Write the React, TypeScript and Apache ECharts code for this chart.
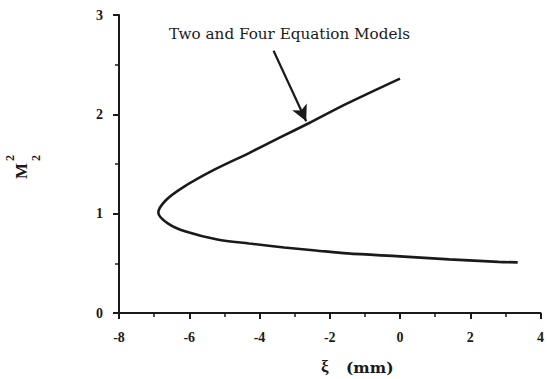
import React, { useEffect, useRef } from "react";
import * as echarts from "echarts";

// Axial position ξ (mm) and squared Mach number M2² along the curve,
// traced from the upper branch end, round the turning point, to the lower branch end.
const xi = [0, -1.5, -2.6, -3.4, -4.3, -5.3, -6.2, -6.68, -6.88, -6.6, -6.1, -5.2, -4.3, -3.3, -2.4, -1.5, 0, 1.4, 2.8, 3.35];
const m2sq = [2.36, 2.11, 1.91, 1.77, 1.61, 1.44, 1.26, 1.13, 1.01, 0.9, 0.82, 0.74, 0.7, 0.66, 0.63, 0.6, 0.57, 0.54, 0.515, 0.51];

// Annotation arrow: tail below the caption, head on the curve
const arrowFrom = [-3.6, 2.64];
const arrowTo = [-2.67, 1.93];

const caption = "Two and Four Equation Models";
const xSymbol = "ξ";
const xUnit = "(mm)";

const INK = "#1a1a1a";
const serif = "'Liberation Serif', 'DejaVu Serif', serif";
const wideSerif = "'DejaVu Serif', 'Liberation Serif', serif";

export default function App() {
  const ref = useRef<HTMLDivElement>(null);

  useEffect(() => {
    document.body.style.margin = "0";
    if (!ref.current) return;
    const chart = echarts.init(ref.current, undefined, { renderer: "svg" });
    const points = xi.map((x, i) => [x, m2sq[i]]);

    const axisCommon = {
      axisLine: { show: true, onZero: false, lineStyle: { color: INK, width: 2 } },
      axisTick: { show: true, inside: false, length: 6, lineStyle: { color: INK, width: 2 } },
      minorTick: { show: true, splitNumber: 2, length: 4, lineStyle: { color: INK, width: 1.5 } },
      splitLine: { show: false },
      minorSplitLine: { show: false },
      axisLabel: {
        color: INK,
        fontFamily: serif,
        fontWeight: "bold" as const,
        fontSize: 14,
      },
    };

    chart.setOption({
      animation: false,
      backgroundColor: "#ffffff",
      grid: { left: 119, right: 4, top: 15, bottom: 66, containLabel: false },
      xAxis: {
        type: "value",
        min: -8,
        max: 4,
        interval: 2,
        ...axisCommon,
        axisLabel: { ...axisCommon.axisLabel, margin: 17 },
      },
      yAxis: {
        type: "value",
        min: 0,
        max: 3,
        interval: 1,
        ...axisCommon,
        axisLabel: { ...axisCommon.axisLabel, margin: 16 },
      },
      series: [
        {
          type: "line",
          data: points,
          smooth: 0.3,
          showSymbol: false,
          symbol: "none",
          lineStyle: { color: INK, width: 2.6 },
          markLine: {
            silent: true,
            symbol: ["none", "arrow"],
            symbolSize: [12, 16],
            label: { show: false },
            lineStyle: { color: INK, width: 2.2, type: "solid" },
            data: [[{ coord: arrowFrom }, { coord: arrowTo }]],
          },
        },
      ],
      graphic: [
        {
          type: "text",
          left: 169,
          top: 26,
          style: {
            text: caption,
            fill: INK,
            font: `15.2px ${wideSerif}`,
          },
        },
        {
          type: "text",
          left: 321,
          top: 358,
          style: {
            text: xSymbol,
            fill: INK,
            font: `bold 17px ${serif}`,
          },
        },
        {
          type: "text",
          left: 346,
          top: 359,
          style: {
            text: xUnit,
            fill: INK,
            font: `bold 15.5px ${wideSerif}`,
          },
        },
        {
          // M with superscript and subscript 2, reading bottom to top
          type: "group",
          x: 21,
          y: 179,
          rotation: Math.PI / 2,
          children: [
            {
              type: "text",
              x: 0,
              y: 0,
              style: {
                text: "M",
                fill: INK,
                font: `bold 17px ${serif}`,
                verticalAlign: "middle",
                align: "left",
              },
            },
            {
              type: "text",
              x: 18,
              y: -11,
              style: {
                text: "2",
                fill: INK,
                font: `bold 12px ${serif}`,
                verticalAlign: "middle",
                align: "left",
              },
            },
            {
              type: "text",
              x: 18,
              y: 15,
              style: {
                text: "2",
                fill: INK,
                font: `bold 12px ${serif}`,
                verticalAlign: "middle",
                align: "left",
              },
            },
          ],
        },
      ],
    });

    return () => chart.dispose();
  }, []);

  return <div ref={ref} style={{ width: 547, height: 379 }} />;
}
